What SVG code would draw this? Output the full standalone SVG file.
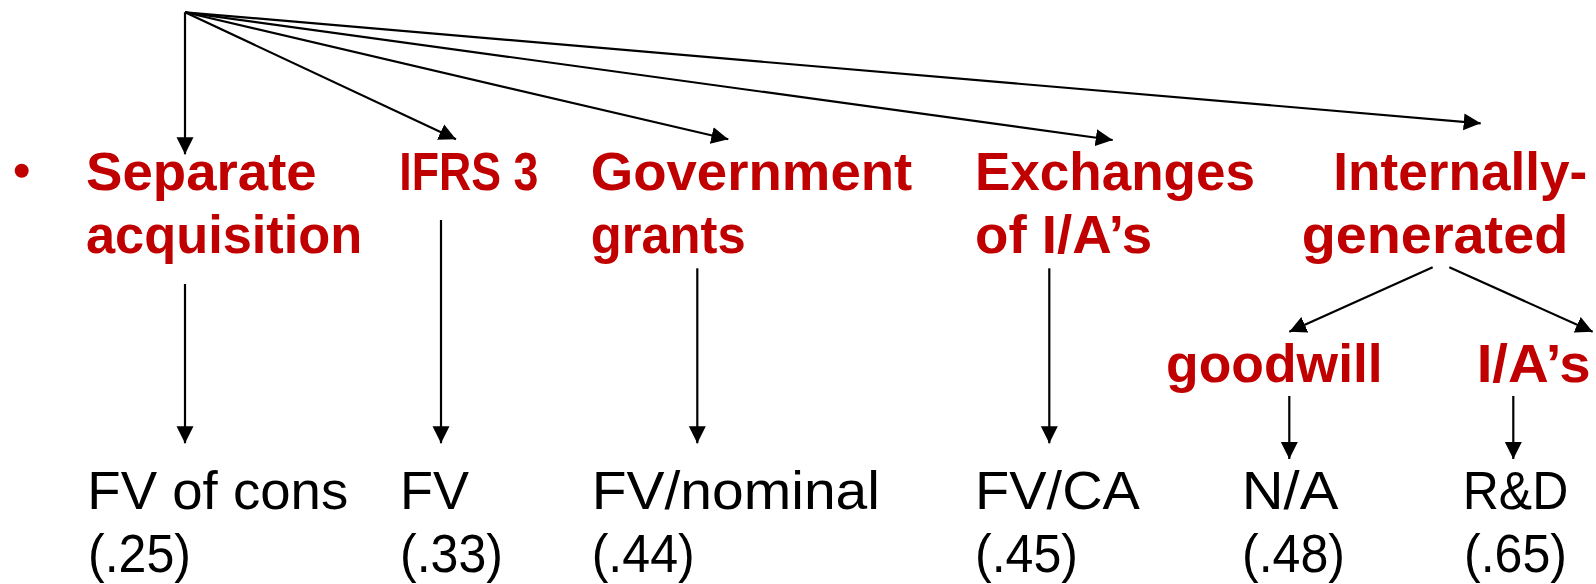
<svg xmlns="http://www.w3.org/2000/svg" width="1596" height="584" viewBox="0 0 1596 584">
<defs>
<style>
.h{font-family:"Liberation Sans",Arial,sans-serif;font-weight:bold;font-size:54px;fill:#C00000}
.v{font-family:"Liberation Sans",Arial,sans-serif;font-size:54px;fill:#000}
.c{stroke:#000;stroke-width:2.2;fill:none;marker-end:url(#ah)}
</style>
<marker id="ah" markerUnits="userSpaceOnUse" markerWidth="18" markerHeight="18" refX="17" refY="8.5" orient="auto" viewBox="0 0 18 17">
<path d="M0,0 L17,8.5 L0,17 z" fill="#000"/>
</marker>
</defs>
<rect width="1596" height="584" fill="#fff"/>
<g id="connectors">
<line class="c" x1="185" y1="12.3" x2="185" y2="154.3"/>
<line class="c" x1="185" y1="12.3" x2="456" y2="139.3"/>
<line class="c" x1="185" y1="12.3" x2="728.3" y2="139.3"/>
<line class="c" x1="185" y1="12.3" x2="1112.7" y2="140"/>
<line class="c" x1="185" y1="12.3" x2="1480.7" y2="123.3"/>
<line class="c" x1="185" y1="284" x2="185" y2="443.3"/>
<line class="c" x1="441" y1="220" x2="441" y2="443.3"/>
<line class="c" x1="697.3" y1="268.3" x2="697.3" y2="443.3"/>
<line class="c" x1="1049.3" y1="268.3" x2="1049.3" y2="443.3"/>
<line class="c" x1="1432.7" y1="267.3" x2="1289.3" y2="331.7"/>
<line class="c" x1="1449.3" y1="267.3" x2="1592.7" y2="331.7"/>
<line class="c" x1="1289.3" y1="396" x2="1289.3" y2="459"/>
<line class="c" x1="1513.3" y1="396" x2="1513.3" y2="459"/>
</g>
<g id="bullet"><circle cx="21.7" cy="170.7" r="7" fill="#C00000"/></g>
<g id="separate">
<text class="h" x="86" y="190" textLength="230.7" lengthAdjust="spacingAndGlyphs">Separate</text>
<text class="h" x="86" y="253.3" textLength="276.3" lengthAdjust="spacingAndGlyphs">acquisition</text>
</g>
<g id="ifrs3"><text class="h" x="399.3" y="190" textLength="139" lengthAdjust="spacingAndGlyphs">IFRS 3</text></g>
<g id="government">
<text class="h" x="590.7" y="190" textLength="321.6" lengthAdjust="spacingAndGlyphs">Government</text>
<text class="h" x="590.7" y="253.3" textLength="155" lengthAdjust="spacingAndGlyphs">grants</text>
</g>
<g id="exchanges">
<text class="h" x="975" y="190" textLength="280" lengthAdjust="spacingAndGlyphs">Exchanges</text>
<text class="h" x="975" y="253.3" textLength="177.3" lengthAdjust="spacingAndGlyphs">of I/A’s</text>
</g>
<g id="internally">
<text class="h" x="1333.3" y="190" textLength="254" lengthAdjust="spacingAndGlyphs">Internally-</text>
<text class="h" x="1301.7" y="253.3" textLength="266.6" lengthAdjust="spacingAndGlyphs">generated</text>
</g>
<g id="goodwill"><text class="h" x="1166" y="381.7" textLength="216.7" lengthAdjust="spacingAndGlyphs">goodwill</text></g>
<g id="ias"><text class="h" x="1476.7" y="381.7" textLength="114" lengthAdjust="spacingAndGlyphs">I/A’s</text></g>
<g id="fv-cons">
<text class="v" x="87.3" y="509.3" textLength="261" lengthAdjust="spacingAndGlyphs">FV of cons</text>
<text class="v" x="88" y="572" textLength="103" lengthAdjust="spacingAndGlyphs">(.25)</text>
</g>
<g id="fv">
<text class="v" x="400" y="509.3">FV</text>
<text class="v" x="400" y="572" textLength="103" lengthAdjust="spacingAndGlyphs">(.33)</text>
</g>
<g id="fv-nominal">
<text class="v" x="591.7" y="509.3" textLength="288.3" lengthAdjust="spacingAndGlyphs">FV/nominal</text>
<text class="v" x="591.7" y="572" textLength="103" lengthAdjust="spacingAndGlyphs">(.44)</text>
</g>
<g id="fv-ca">
<text class="v" x="975" y="509.3" textLength="165" lengthAdjust="spacingAndGlyphs">FV/CA</text>
<text class="v" x="975" y="572" textLength="103" lengthAdjust="spacingAndGlyphs">(.45)</text>
</g>
<g id="na">
<text class="v" x="1241.7" y="509.3" textLength="96.6" lengthAdjust="spacingAndGlyphs">N/A</text>
<text class="v" x="1242" y="572" textLength="103" lengthAdjust="spacingAndGlyphs">(.48)</text>
</g>
<g id="rd">
<text class="v" x="1462.7" y="509.3" textLength="105.6" lengthAdjust="spacingAndGlyphs">R&amp;D</text>
<text class="v" x="1464" y="572" textLength="103" lengthAdjust="spacingAndGlyphs">(.65)</text>
</g>
</svg>
